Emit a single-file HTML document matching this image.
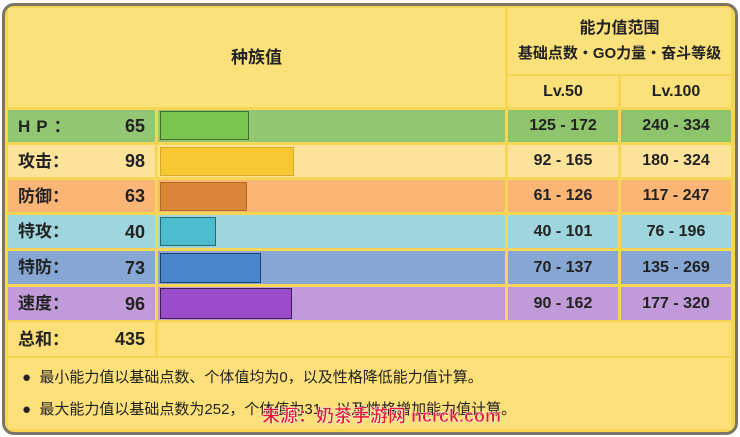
<!DOCTYPE html>
<html><head><meta charset="utf-8"><style>
body{margin:0;width:740px;height:437px;background:#fff;font-family:"Liberation Sans","Noto Sans CJK SC",sans-serif;overflow:hidden}
.frame{position:absolute;left:2px;top:3px;width:730px;height:426px;border:3px solid #7c7466;border-radius:12px;background:#f7d555}
.c{position:absolute;box-sizing:border-box;display:flex;align-items:center;font-weight:bold;color:#222;line-height:1}
.bar{position:absolute;box-sizing:border-box;border:1.5px solid rgba(0,0,0,.45)}
.n{justify-content:center;font-size:16px}
.lab{font-size:17px;padding-left:10px;justify-content:space-between;padding-right:10px}
.lab b{font-size:18px}
</style></head><body>
<div class="frame"></div>
<div class="c" style="left:8px;top:8px;width:497px;height:99px;background:#fbe17a;justify-content:center;font-size:17px">种族值</div>
<div class="c" style="left:508px;top:8px;width:223px;height:66px;background:#fbe17a;flex-direction:column;justify-content:center;font-size:16px;line-height:25px"><div>能力值范围</div><div style="font-size:15px">基础点数・GO力量・奋斗等级</div></div>
<div class="c n" style="left:508px;top:76px;width:110px;height:31px;background:#fbe17a">Lv.50</div>
<div class="c n" style="left:621px;top:76px;width:110px;height:31px;background:#fbe17a">Lv.100</div>

<div class="c lab" style="left:8px;top:110px;width:147px;height:32px;background:#94c773"><span style="letter-spacing:6px">HP：</span><b>65</b></div>
<div class="c" style="left:158px;top:110px;width:347px;height:32px;background:#94c773"></div>
<div class="bar" style="left:160px;top:111px;width:89px;height:29px;background:#7cc54f"></div>
<div class="c n" style="left:508px;top:110px;width:110px;height:32px;background:#8dc46c">125 - 172</div>
<div class="c n" style="left:621px;top:110px;width:110px;height:32px;background:#8dc46c">240 - 334</div>

<div class="c lab" style="left:8px;top:145px;width:147px;height:32px;background:#fde29a"><span>攻击：</span><b>98</b></div>
<div class="c" style="left:158px;top:145px;width:347px;height:32px;background:#fde29a"></div>
<div class="bar" style="left:160px;top:147px;width:134px;height:29px;background:#f8c832;border-color:rgba(0,0,0,.15)"></div>
<div class="c n" style="left:508px;top:145px;width:110px;height:32px;background:#fde29a">92 - 165</div>
<div class="c n" style="left:621px;top:145px;width:110px;height:32px;background:#fde29a">180 - 324</div>

<div class="c lab" style="left:8px;top:180px;width:147px;height:32px;background:#fbb676"><span>防御：</span><b>63</b></div>
<div class="c" style="left:158px;top:180px;width:347px;height:32px;background:#fbb676"></div>
<div class="bar" style="left:160px;top:182px;width:87px;height:29px;background:#d98736;border-color:rgba(0,0,0,.2)"></div>
<div class="c n" style="left:508px;top:180px;width:110px;height:32px;background:#fbb676">61 - 126</div>
<div class="c n" style="left:621px;top:180px;width:110px;height:32px;background:#fbb676">117 - 247</div>

<div class="c lab" style="left:8px;top:215px;width:147px;height:33px;background:#9fd5dd"><span>特攻：</span><b>40</b></div>
<div class="c" style="left:158px;top:215px;width:347px;height:33px;background:#9fd5dd"></div>
<div class="bar" style="left:160px;top:217px;width:56px;height:29px;background:#4bbdcd"></div>
<div class="c n" style="left:508px;top:215px;width:110px;height:33px;background:#9fd5dd">40 - 101</div>
<div class="c n" style="left:621px;top:215px;width:110px;height:33px;background:#9fd5dd">76 - 196</div>

<div class="c lab" style="left:8px;top:251px;width:147px;height:33px;background:#86a6d4"><span>特防：</span><b>73</b></div>
<div class="c" style="left:158px;top:251px;width:347px;height:33px;background:#86a6d4"></div>
<div class="bar" style="left:160px;top:253px;width:101px;height:30px;background:#4a86cc;border-color:#23426a"></div>
<div class="c n" style="left:508px;top:251px;width:110px;height:33px;background:#86a6d4">70 - 137</div>
<div class="c n" style="left:621px;top:251px;width:110px;height:33px;background:#86a6d4">135 - 269</div>

<div class="c lab" style="left:8px;top:287px;width:147px;height:33px;background:#c19bd9"><span>速度：</span><b>96</b></div>
<div class="c" style="left:158px;top:287px;width:347px;height:33px;background:#c19bd9"></div>
<div class="bar" style="left:160px;top:288px;width:132px;height:31px;background:#9b4ccb;border-color:#3a2050"></div>
<div class="c n" style="left:508px;top:287px;width:110px;height:33px;background:#c19bd9">90 - 162</div>
<div class="c n" style="left:621px;top:287px;width:110px;height:33px;background:#c19bd9">177 - 320</div>

<div class="c lab" style="left:8px;top:322px;width:147px;height:34px;background:#fde07a"><span>总和：</span><b>435</b></div>
<div class="c" style="left:158px;top:322px;width:573px;height:34px;background:#fde07a"></div>

<div class="c" style="left:8px;top:358px;width:723px;height:71px;background:#fde07a;flex-direction:column;align-items:flex-start;justify-content:space-around;font-weight:normal;font-size:15px;padding:4px 0 4px 14px">
<div>●&nbsp; 最小能力值以基础点数、个体值均为0，以及性格降低能力值计算。</div>
<div>●&nbsp; 最大能力值以基础点数为252，个体值为31，以及性格增加能力值计算。</div>
</div>
<div style="position:absolute;left:262px;top:402px;font-size:18px;color:#e8102a;font-weight:bold;-webkit-text-stroke:0.5px #fff">来源：奶茶手游网 ncrck.com</div>
</body></html>
